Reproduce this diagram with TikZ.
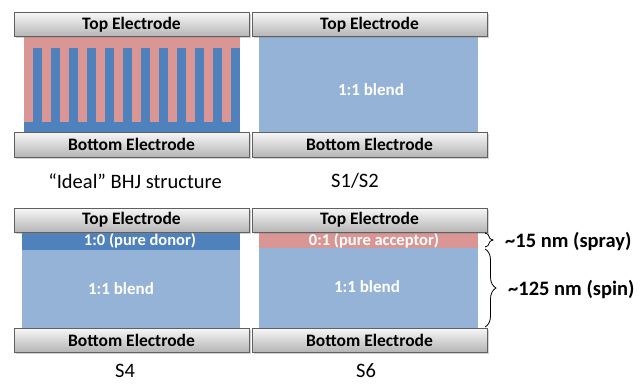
\documentclass[tikz,border=0pt]{standalone}
\usepackage{fontspec}
\setmainfont{Carlito}
\usetikzlibrary{shadows,decorations.pathreplacing}
\definecolor{pinkac}{RGB}{217,150,148}
\definecolor{donorblue}{RGB}{79,129,189}
\definecolor{blendblue}{RGB}{149,179,215}
\tikzset{
  x=1pt,y=-1pt,
  electrode/.style={draw=gray!75!black, line width=0.6pt, top color=gray!6, bottom color=gray!58,
    minimum width=235pt, minimum height=24pt, inner sep=0pt,
    font=\fontsize{17.5}{20}\selectfont\bfseries, text=black,
    drop shadow={shadow xshift=1.5pt, shadow yshift=-1.5pt, opacity=0.35}},
  layer/.style={draw=none, inner sep=0pt, outer sep=0pt},
  laytext/.style={text=white, font=\fontsize{17}{20}\selectfont\bfseries, inner sep=0pt},
  striptext/.style={text=white, font=\fontsize{16.5}{19}\selectfont\bfseries, inner sep=0pt},
  caption/.style={font=\fontsize{20.5}{24}\selectfont, inner sep=0pt},
  thick label/.style={font=\fontsize{20.5}{24}\selectfont\bfseries, inner sep=0pt, anchor=west},
  bracedeco/.style={decorate, decoration={brace, amplitude=#1}, line width=0.8pt, draw=black},
}
\begin{document}
\begin{tikzpicture}
\useasboundingbox (0,0) rectangle (644,383);
% ---------- Panel 1: Ideal BHJ ----------
\node[layer, fill=pinkac, minimum width=216pt, minimum height=96pt] (p1act) at (131.5,84) {};
\node[layer, fill=donorblue, minimum width=216pt, minimum height=10pt] (p1base) at (131.5,127) {};
\foreach \k in {0,...,11}{
  \node[layer, fill=donorblue, minimum width=9pt, minimum height=75pt] (bar\k) at ({37.5+18*\k},85) {};
}
\node[electrode] (t1) at (131.5,24.5) {Top Electrode};
\node[electrode, minimum height=25pt] (b1) at (131.5,144.5) {Bottom Electrode};
\node[caption] (c1) at (135,181) {“Ideal” BHJ structure};
% ---------- Panel 2: S1/S2 ----------
\node[layer, fill=blendblue, minimum width=219pt, minimum height=96pt] (p2act) at (368.5,84) {};
\node[laytext] (p2txt) at (371,90) {1:1 blend};
\node[electrode] (t2) at (369.5,24.5) {Top Electrode};
\node[electrode, minimum height=25pt] (b2) at (369.5,144.5) {Bottom Electrode};
\node[caption] (c2) at (355,181) {S1/S2};
% ---------- Panel 3: S4 ----------
\node[layer, fill=donorblue, minimum width=218pt, minimum height=18pt] (p3top) at (131,241) {};
\node[layer, fill=blendblue, minimum width=218pt, minimum height=78pt] (p3act) at (131,289) {};
\node[striptext] (p3s) at (140,241) {1:0 (pure donor)};
\node[laytext] (p3txt) at (121,289) {1:1 blend};
\node[electrode] (t3) at (131.5,220) {Top Electrode};
\node[electrode] (b3) at (131.5,340) {Bottom Electrode};
\node[caption] (c3) at (125,371) {S4};
% ---------- Panel 4: S6 ----------
\node[layer, fill=pinkac, minimum width=219pt, minimum height=16pt] (p4top) at (368.5,240) {};
\node[layer, fill=blendblue, minimum width=219pt, minimum height=80pt] (p4act) at (368.5,288) {};
\node[striptext] (p4s) at (374,241) {0:1 (pure acceptor)};
\node[laytext] (p4txt) at (367,287) {1:1 blend};
\node[electrode] (t4) at (369.5,220) {Top Electrode};
\node[electrode] (b4) at (369.5,340) {Bottom Electrode};
\node[caption] (c4) at (366,371) {S6};
% ---------- Braces ----------
\coordinate (br1a) at (485,233);
\coordinate (br1b) at (485,247);
\coordinate (br2a) at (485,249);
\coordinate (br2b) at (485,327);
\draw[bracedeco=8pt] (br1a) -- (br1b);
\draw[bracedeco=11pt] (br2a) -- (br2b);
\node[thick label] (l1) at (505,241) {\textasciitilde15 nm (spray)};
\node[thick label] (l2) at (508,289) {\textasciitilde125 nm (spin)};
\end{tikzpicture}
\end{document}
